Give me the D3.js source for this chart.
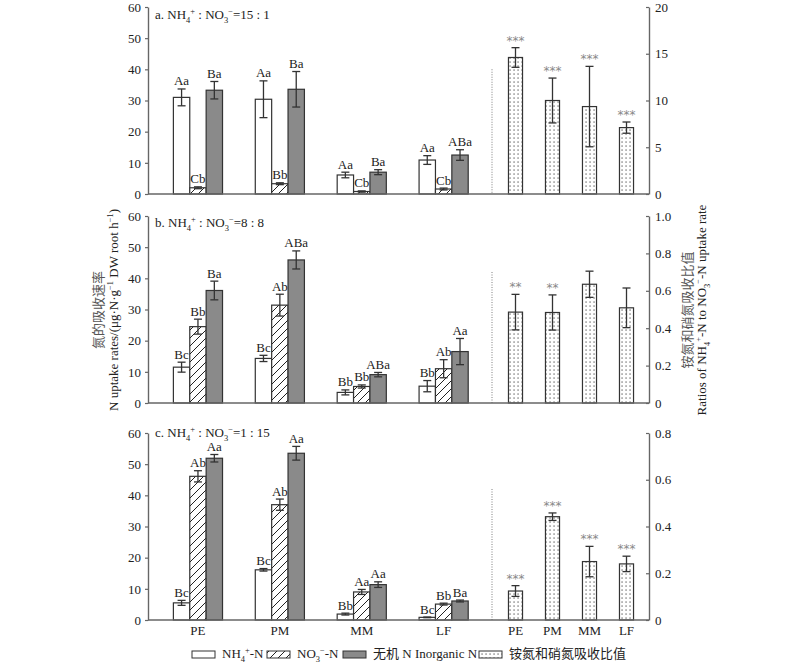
<!DOCTYPE html>
<html>
<head>
<meta charset="utf-8">
<script src="https://cdn.jsdelivr.net/npm/d3@7"></script>
<style>
  body { margin: 0; background: #fff; }
  svg { font-family: "Liberation Serif", "Times New Roman", "Noto Sans CJK SC", serif; }
</style>
</head>
<body>
<svg id="chart"></svg>
<script>
// groups and series
const groups = ['PE', 'PM', 'MM', 'LF'];
const series = ['nh4', 'no3', 'inorg'];

// panel a, b, c (rows) x PE, PM, MM, LF (cols)
const nh4Mean = [[31.0, 30.4, 6.1, 10.9], [11.5, 14.3, 3.4, 5.4], [5.5, 16.1, 1.9, 0.85]];
const nh4Err = [[2.7, 5.9, 0.9, 1.4], [1.6, 1.0, 0.8, 1.8], [0.8, 0.4, 0.3, 0.1]];
const no3Mean = [[2.0, 3.3, 0.8, 1.6], [24.5, 31.4, 5.3, 11.0], [46.1, 37.0, 9.0, 5.1]];
const no3Err = [[0.3, 0.3, 0.2, 0.3], [2.4, 3.5, 0.5, 2.9], [1.8, 1.8, 0.8, 0.3]];
const inorgMean = [[33.3, 33.6, 7.0, 12.5], [36.1, 45.9, 9.1, 16.5], [51.9, 53.5, 11.35, 6.1]];
const inorgErr = [[2.8, 5.7, 0.8, 1.7], [3.0, 2.9, 0.7, 4.2], [1.2, 2.2, 0.9, 0.3]];
const ratioMean = [[14.6, 10.0, 9.35, 7.1], [0.486, 0.484, 0.635, 0.509], [0.124, 0.442, 0.25, 0.24]];
const ratioErr = [[1.05, 2.4, 4.3, 0.6], [0.095, 0.094, 0.07, 0.106], [0.023, 0.016, 0.065, 0.033]];

const nh4Sig = [['Aa', 'Aa', 'Aa', 'Aa'], ['Bc', 'Bc', 'Bb', 'Bb'], ['Bc', 'Bc', 'Bb', 'Bc']];
const no3Sig = [['Cb', 'Bb', 'Cb', 'Cb'], ['Bb', 'Ab', 'Bb', 'Ab'], ['Ab', 'Ab', 'Aa', 'Bb']];
const inorgSig = [['Ba', 'Ba', 'Ba', 'ABa'], ['Ba', 'ABa', 'ABa', 'Aa'], ['Aa', 'Aa', 'Aa', 'Ba']];
const ratioStars = [['***', '***', '***', '***'], ['**', '**', '', ''], ['***', '***', '***', '***']];

const panelNames = ['a', 'b', 'c'];
const panelRatios = ['15 : 1', '8 : 8', '1 : 15'];
const leftTicks = [0, 10, 20, 30, 40, 50, 60];
const rightMax = [20, 1.0, 0.8];
const rightTicks = [[0, 5, 10, 15, 20], [0, 0.2, 0.4, 0.6, 0.8, 1.0], [0, 0.2, 0.4, 0.6, 0.8]];
const rightTickLabels = [['0', '5', '10', '15', '20'], ['0', '0.2', '0.4', '0.6', '0.8', '1.0'], ['0', '0.2', '0.4', '0.6', '0.8']];
const sepTop = [40, 42, 42]; // height of the dotted separator, left scale units

const width = 800, height = 666;
const svg = d3.select('#chart').attr('width', width).attr('height', height);

const axisColor = '#666';
const ink = '#222';
const grayFill = '#8a8a8a';

// patterns
const defs = svg.append('defs');
defs.append('pattern')
  .attr('id', 'hatch').attr('patternUnits', 'userSpaceOnUse')
  .attr('width', 8).attr('height', 8)
  .call(p => {
    p.append('rect').attr('width', 8).attr('height', 8).attr('fill', '#fff');
    p.append('path').attr('d', 'M0,8 L8,0 M-2,2 L2,-2 M6,10 L10,6')
      .attr('stroke', '#222').attr('stroke-width', 1);
  });
defs.append('pattern')
  .attr('id', 'dots').attr('patternUnits', 'userSpaceOnUse')
  .attr('width', 4).attr('height', 4)
  .call(p => {
    p.append('rect').attr('width', 4).attr('height', 4).attr('fill', '#fff');
    p.append('rect').attr('x', 1.5).attr('y', 1.5).attr('width', 1.1).attr('height', 1.1).attr('fill', '#333');
  });

const fills = { nh4: '#fff', no3: 'url(#hatch)', inorg: grayFill };

// text with sub/superscripts: parts = [[text, ''|'sub'|'sup'], ...]
function addRich(textSel, parts, fs) {
  let shift = 0;
  parts.forEach(([s, m]) => {
    const target = m === 'sub' ? fs * 0.3 : m === 'sup' ? -fs * 0.4 : 0;
    textSel.append('tspan')
      .attr('dy', target - shift)
      .attr('font-size', m ? fs * 0.65 : fs)
      .text(s);
    shift = target;
  });
  return textSel;
}

// horizontal layout
const xLeft = 148, xRight = 649, xSep = 492;
const x0 = d3.scaleBand().domain(groups).range([xLeft, 493.6]).paddingInner(0.4).paddingOuter(0.31);
const x1 = d3.scaleBand().domain(series).range([0, x0.bandwidth()]);
const xr = d3.scaleBand().domain(groups).range([493, xRight]).paddingInner(0.62).paddingOuter(0.418);

const panelTop = [7, 216, 433];
const panelH = 187;
const labelDy = [12, 11, 4];

function errBar(g, cx, y, mean, err, cap) {
  g.append('line').attr('x1', cx).attr('x2', cx)
    .attr('y1', y(mean - err)).attr('y2', y(mean + err));
  g.append('line').attr('x1', cx - cap).attr('x2', cx + cap)
    .attr('y1', y(mean + err)).attr('y2', y(mean + err));
  g.append('line').attr('x1', cx - cap).attr('x2', cx + cap)
    .attr('y1', y(mean - err)).attr('y2', y(mean - err));
}

const seriesData = {
  nh4: [nh4Mean, nh4Err, nh4Sig],
  no3: [no3Mean, no3Err, no3Sig],
  inorg: [inorgMean, inorgErr, inorgSig]
};

panelNames.forEach((name, p) => {
  const top = panelTop[p], bottom = top + panelH;
  const y = d3.scaleLinear().domain([0, 60]).range([bottom, top]);
  const yr = d3.scaleLinear().domain([0, rightMax[p]]).range([bottom, top]);
  const g = svg.append('g');

  // dotted separator
  g.append('line')
    .attr('x1', xSep).attr('x2', xSep)
    .attr('y1', y(sepTop[p])).attr('y2', bottom)
    .attr('stroke', '#aaa').attr('stroke-width', 1.5)
    .attr('stroke-dasharray', '1,1.5');

  // uptake bars
  series.forEach(s => {
    const [means, errs, sigs] = seriesData[s];
    groups.forEach((grp, i) => {
      const bx = x0(grp) + x1(s);
      const bw = x1.bandwidth();
      const m = means[p][i], e = errs[p][i];
      g.append('rect')
        .attr('x', bx).attr('y', y(m))
        .attr('width', bw).attr('height', bottom - y(m))
        .attr('fill', fills[s]).attr('stroke', '#333').attr('stroke-width', 1.2);
      const eg = g.append('g').attr('stroke', '#333').attr('stroke-width', 1.3);
      errBar(eg, bx + bw / 2, y, m, e, 4);
      g.append('text')
        .attr('x', bx + bw / 2).attr('y', y(m + e) - 3.5)
        .attr('text-anchor', 'middle').attr('font-size', 13).attr('fill', ink)
        .text(sigs[p][i]);
    });
  });

  // ratio bars
  groups.forEach((grp, i) => {
    const bx = xr(grp), bw = xr.bandwidth();
    const m = ratioMean[p][i], e = ratioErr[p][i];
    g.append('rect')
      .attr('x', bx).attr('y', yr(m))
      .attr('width', bw).attr('height', bottom - yr(m))
      .attr('fill', 'url(#dots)').attr('stroke', '#333').attr('stroke-width', 1.2);
    const eg = g.append('g').attr('stroke', '#333').attr('stroke-width', 1.3);
    errBar(eg, bx + bw / 2, yr, m, e, 4);
    if (ratioStars[p][i]) {
      g.append('text')
        .attr('x', bx + bw / 2).attr('y', yr(m + e) - 3)
        .attr('text-anchor', 'middle').attr('font-size', 12).attr('fill', '#888')
        .attr('font-family', 'DejaVu Sans, sans-serif')
        .text(ratioStars[p][i]);
    }
  });

  // axes
  const ax = g.append('g').attr('transform', `translate(${xLeft},0)`)
    .call(d3.axisLeft(y).tickValues(leftTicks).tickFormat(d3.format('d'))
      .tickSizeInner(3).tickSizeOuter(0).tickPadding(4));
  const axr = g.append('g').attr('transform', `translate(${xRight},0)`)
    .call(d3.axisRight(yr).tickValues(rightTicks[p])
      .tickFormat((d, i) => rightTickLabels[p][i])
      .tickSizeInner(-3).tickSizeOuter(0).tickPadding(6));
  [ax, axr].forEach(a => {
    a.select('.domain').attr('stroke', axisColor).attr('stroke-width', 1.4);
    a.selectAll('.tick line').attr('stroke', axisColor).attr('stroke-width', 1.2);
    a.selectAll('.tick text').attr('font-size', 13).attr('fill', ink)
      .attr('font-family', '"Liberation Serif", serif');
  });
  g.append('line')
    .attr('x1', xLeft).attr('x2', xRight).attr('y1', bottom).attr('y2', bottom)
    .attr('stroke', axisColor).attr('stroke-width', 1.4);

  // panel label
  const lab = g.append('text').attr('x', 155).attr('y', top + labelDy[p]).attr('fill', ink);
  addRich(lab, [[name + '. NH', ''], ['4', 'sub'], ['+', 'sup'], [' : NO', ''], ['3', 'sub'], ['−', 'sup'], ['=' + panelRatios[p], '']], 13);
});

// x labels under bottom panel
const xl = svg.append('g').attr('font-size', 13).attr('fill', ink).attr('text-anchor', 'middle');
groups.forEach(grp => {
  xl.append('text').attr('x', x0(grp) + x0.bandwidth() / 2).attr('y', 635).text(grp);
  xl.append('text').attr('x', xr(grp) + xr.bandwidth() / 2).attr('y', 635).text(grp);
});

// left axis title
const midY = 310;
svg.append('text')
  .attr('transform', `translate(103,${midY}) rotate(-90)`)
  .attr('text-anchor', 'middle').attr('font-size', 13).attr('fill', '#555')
  .attr('font-family', '"Noto Sans CJK SC", sans-serif')
  .text('氮的吸收速率');
addRich(svg.append('text')
  .attr('transform', `translate(118,${midY}) rotate(-90)`)
  .attr('text-anchor', 'middle').attr('fill', ink),
  [['N uptake rates/(μg·N·g', ''], ['−1', 'sup'], [' DW root h', ''], ['−1', 'sup'], [')', '']], 13);

// right axis title
svg.append('text')
  .attr('transform', `translate(692,${midY}) rotate(-90)`)
  .attr('text-anchor', 'middle').attr('font-size', 13).attr('fill', '#555')
  .attr('font-family', '"Noto Sans CJK SC", sans-serif')
  .text('铵氮和硝氮吸收比值');
addRich(svg.append('text')
  .attr('transform', `translate(706,${midY}) rotate(-90)`)
  .attr('text-anchor', 'middle').attr('fill', ink),
  [['Ratios of NH', ''], ['4', 'sub'], ['+', 'sup'], ['-N to NO', ''], ['3', 'sub'], ['−', 'sup'], ['-N uptake rate', '']], 13);

// legend
const legendItems = [
  { x: 192, fill: '#fff', parts: [['NH', ''], ['4', 'sub'], ['+', 'sup'], ['-N', '']] },
  { x: 267, fill: 'url(#hatch)', parts: [['NO', ''], ['3', 'sub'], ['−', 'sup'], ['-N', '']] },
  { x: 343, fill: grayFill, parts: [['无机 N Inorganic N', '']] },
  { x: 479, fill: 'url(#dots)', parts: [['铵氮和硝氮吸收比值', '']] }
];
const lg = svg.append('g');
legendItems.forEach(it => {
  lg.append('rect').attr('x', it.x).attr('y', 651).attr('width', 23).attr('height', 7)
    .attr('fill', it.fill).attr('stroke', '#333').attr('stroke-width', 1);
  addRich(lg.append('text').attr('x', it.x + 30).attr('y', 658).attr('fill', ink), it.parts, 13);
});
</script>
</body>
</html>
